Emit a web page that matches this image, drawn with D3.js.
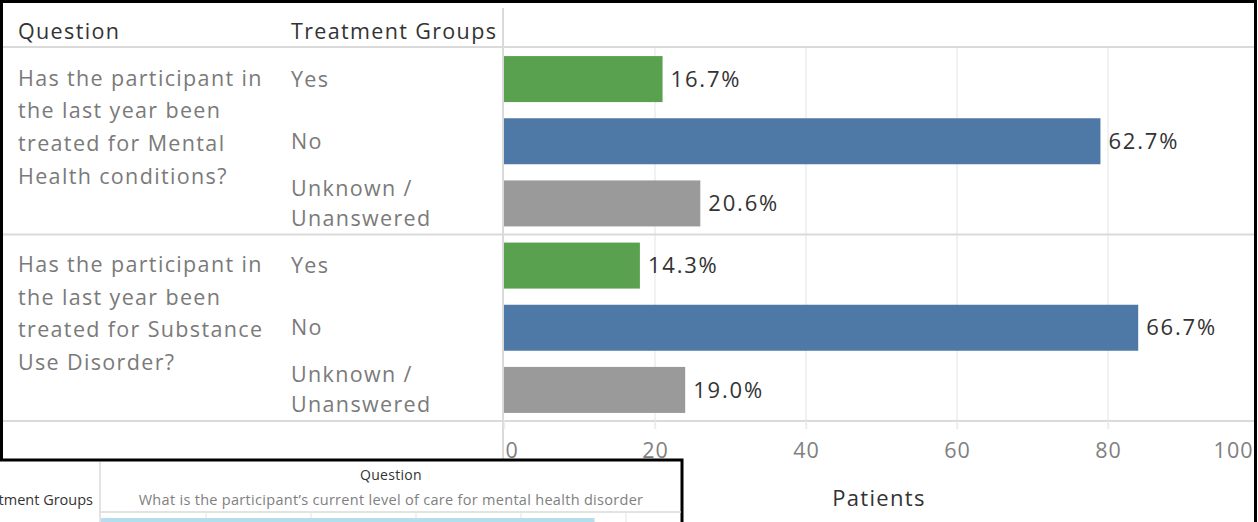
<!DOCTYPE html>
<html>
<head>
<meta charset="utf-8">
<script src="https://cdn.jsdelivr.net/npm/d3@7"></script>
<style>
  body { margin: 0; background: #fff; }
  svg { display: block; font-family: "Open Sans", sans-serif; }
</style>
</head>
<body>
<div id="container"></div>
<script>
let width = 1258
let height = 522

// data
const questions = ["mental", "substance"]
const questionLines = [
    ["Has the participant in", "the last year been", "treated for Mental", "Health conditions?"],
    ["Has the participant in", "the last year been", "treated for Substance", "Use Disorder?"]
]
const groups = ["Yes", "No", "Unknown / Unanswered"]
const groupLines = [["Yes"], ["No"], ["Unknown /", "Unanswered"]]
const groupColors = ["#59a14f", "#4e79a7", "#9a9a9a"]
const mentalCounts = [21, 79, 26]
const substanceCounts = [18, 84, 24]
const counts = [mentalCounts, substanceCounts]
const xTicks = [0, 20, 40, 60, 80, 100]

// second (cropped) view in the corner
const careTicks = [20, 40, 60, 80, 100]
const careValues = [94]

const fmt = d3.format(".1%")
const labelFont = "21.5px"
const labelSpacing = "1.35px"

let x = d3.scaleLinear()
    .domain([0, 100])
    .range([504, 1259])

let pane = d3.scaleBand()
    .domain(questions)
    .range([48, 421])

let y = d3.scaleBand()
    .domain(groups)
    .range([0, pane.bandwidth()])
    .paddingInner(0.26)
    .paddingOuter(0.13)

let svg = d3.select("#container")
    .append("svg")
    .attr("width", width)
    .attr("height", height)
    .attr("viewBox", [0, 0, width, height])

svg.append("rect").attr("width", width).attr("height", height).attr("fill", "#fff")

// gridlines
svg.append("g")
    .selectAll("line")
    .data(xTicks.slice(1, -1))
    .join("line")
    .attr("x1", d => x(d)).attr("x2", d => x(d))
    .attr("y1", 48).attr("y2", 429)
    .attr("stroke", "#ececec")
    .attr("stroke-width", 1.5)

// header
svg.append("g")
    .attr("fill", "#333")
    .style("font-size", labelFont)
    .style("letter-spacing", labelSpacing)
    .selectAll("text")
    .data([["Question", 18], ["Treatment Groups", 291]])
    .join("text")
    .attr("x", d => d[1])
    .attr("y", 31)
    .attr("dy", "0.35em")
    .text(d => d[0])

// row separators
svg.append("g")
    .selectAll("line")
    .data([47, pane("substance"), 421])
    .join("line")
    .attr("x1", 2).attr("x2", 1256)
    .attr("y1", d => d).attr("y2", d => d)
    .attr("stroke", "#dadada")
    .attr("stroke-width", 2)

svg.append("line")
    .attr("x1", 503).attr("x2", 503)
    .attr("y1", 8).attr("y2", 460)
    .attr("stroke", "#dadada")
    .attr("stroke-width", 2)

// panes
questions.forEach((q, qi) => {
    const g = svg.append("g").attr("transform", `translate(0,${pane(q)})`)
    const total = d3.sum(counts[qi])
    const rows = groups.map((k, i) => ({ key: k, lines: groupLines[i], value: counts[qi][i], color: groupColors[i] }))

    g.append("text")
        .attr("fill", "#7a7a7a")
        .style("font-size", labelFont)
        .style("letter-spacing", labelSpacing)
        .selectAll("tspan")
        .data(questionLines[qi])
        .join("tspan")
        .attr("x", 18)
        .attr("y", (d, i) => 30 + i * 32.7)
        .attr("dy", "0.35em")
        .text(d => d)

    g.selectAll("text.grp")
        .data(rows)
        .join("text")
        .attr("class", "grp")
        .attr("fill", "#7a7a7a")
        .style("font-size", labelFont)
        .style("letter-spacing", labelSpacing)
        .each(function (d) {
            const c = y(d.key) + y.bandwidth() / 2
            d3.select(this).selectAll("tspan")
                .data(d.lines)
                .join("tspan")
                .attr("x", 291)
                .attr("y", (t, i) => c + (i - (d.lines.length - 1) / 2) * 30)
                .attr("dy", "0.35em")
                .text(t => t)
        })

    g.selectAll("rect")
        .data(rows)
        .join("rect")
        .attr("x", x(0))
        .attr("y", d => y(d.key))
        .attr("width", d => x(d.value) - x(0))
        .attr("height", y.bandwidth())
        .attr("fill", d => d.color)

    g.selectAll("text.val")
        .data(rows)
        .join("text")
        .attr("class", "val")
        .attr("x", d => x(d.value) + 8)
        .attr("y", d => y(d.key) + y.bandwidth() / 2)
        .attr("dy", "0.35em")
        .attr("fill", "#333")
        .style("font-size", "22px")
        .style("letter-spacing", "1.8px")
        .text(d => fmt(d.value / total))
})

// x axis
let xAxis = g => g
    .attr("transform", `translate(0,421)`)
    .call(d3.axisBottom(x).tickValues(xTicks).tickSize(8).tickPadding(0))
    .call(g => g.select(".domain").remove())
    .call(g => g.selectAll(".tick line").attr("stroke", "#ececec").attr("stroke-width", 1.5))
    .call(g => g.selectAll(".tick text")
        .attr("y", 29)
        .attr("dy", "0.35em")
        .attr("fill", "#808080")
        .style("font-size", "21.5px")
        .style("letter-spacing", "1px")
        .style("font-family", "'Open Sans', sans-serif")
        .attr("text-anchor", d => d === 0 ? "start" : d === 100 ? "end" : "middle")
        .attr("dx", d => d === 0 ? 1 : d === 100 ? -6 : 0))

svg.append("g").call(xAxis)

svg.append("text")
    .attr("x", 879)
    .attr("y", 498)
    .attr("dy", "0.35em")
    .attr("text-anchor", "middle")
    .attr("fill", "#333")
    .style("font-size", "22px")
    .style("letter-spacing", "1.3px")
    .text("Patients")

// outer frame
svg.append("rect")
    .attr("x", 1.5).attr("y", 1.5)
    .attr("width", 1254).attr("height", 560)
    .attr("fill", "none")
    .attr("stroke", "#000")
    .attr("stroke-width", 3)

// overlapping second view
let cx = d3.scaleLinear()
    .domain([0, 120])
    .range([101, 731])

const ov = svg.append("g")
ov.append("rect")
    .attr("x", -4).attr("y", 460)
    .attr("width", 686).attr("height", 80)
    .attr("fill", "#fff")
    .attr("stroke", "#000")
    .attr("stroke-width", 3)

ov.append("line")
    .attr("x1", 100).attr("x2", 100)
    .attr("y1", 462).attr("y2", 522)
    .attr("stroke", "#dadada").attr("stroke-width", 1.5)

ov.append("line")
    .attr("x1", 100).attr("x2", 681)
    .attr("y1", 512).attr("y2", 512)
    .attr("stroke", "#dadada").attr("stroke-width", 1.5)

ov.selectAll("line.grid")
    .data(careTicks)
    .join("line")
    .attr("class", "grid")
    .attr("x1", d => cx(d)).attr("x2", d => cx(d))
    .attr("y1", 513).attr("y2", 522)
    .attr("stroke", "#ececec").attr("stroke-width", 1.5)

ov.selectAll("rect.bar")
    .data(careValues)
    .join("rect")
    .attr("class", "bar")
    .attr("x", cx(0))
    .attr("y", 518)
    .attr("width", d => cx(d) - cx(0))
    .attr("height", 10)
    .attr("fill", "#b6dcf0")

ov.append("text")
    .attr("x", 93).attr("y", 500).attr("dy", "0.35em")
    .attr("text-anchor", "end")
    .attr("fill", "#333")
    .style("font-size", "14.5px")
    .text("Treatment Groups")

ov.append("text")
    .attr("x", 391).attr("y", 475).attr("dy", "0.35em")
    .attr("text-anchor", "middle")
    .attr("fill", "#333")
    .style("font-size", "14px")
    .style("letter-spacing", "0.3px")
    .text("Question")

ov.append("text")
    .attr("x", 391).attr("y", 500).attr("dy", "0.35em")
    .attr("text-anchor", "middle")
    .attr("fill", "#808080")
    .style("font-size", "14.5px")
    .style("letter-spacing", "0.3px")
    .text("What is the participant\u2019s current level of care for mental health disorder")
</script>
</body>
</html>
